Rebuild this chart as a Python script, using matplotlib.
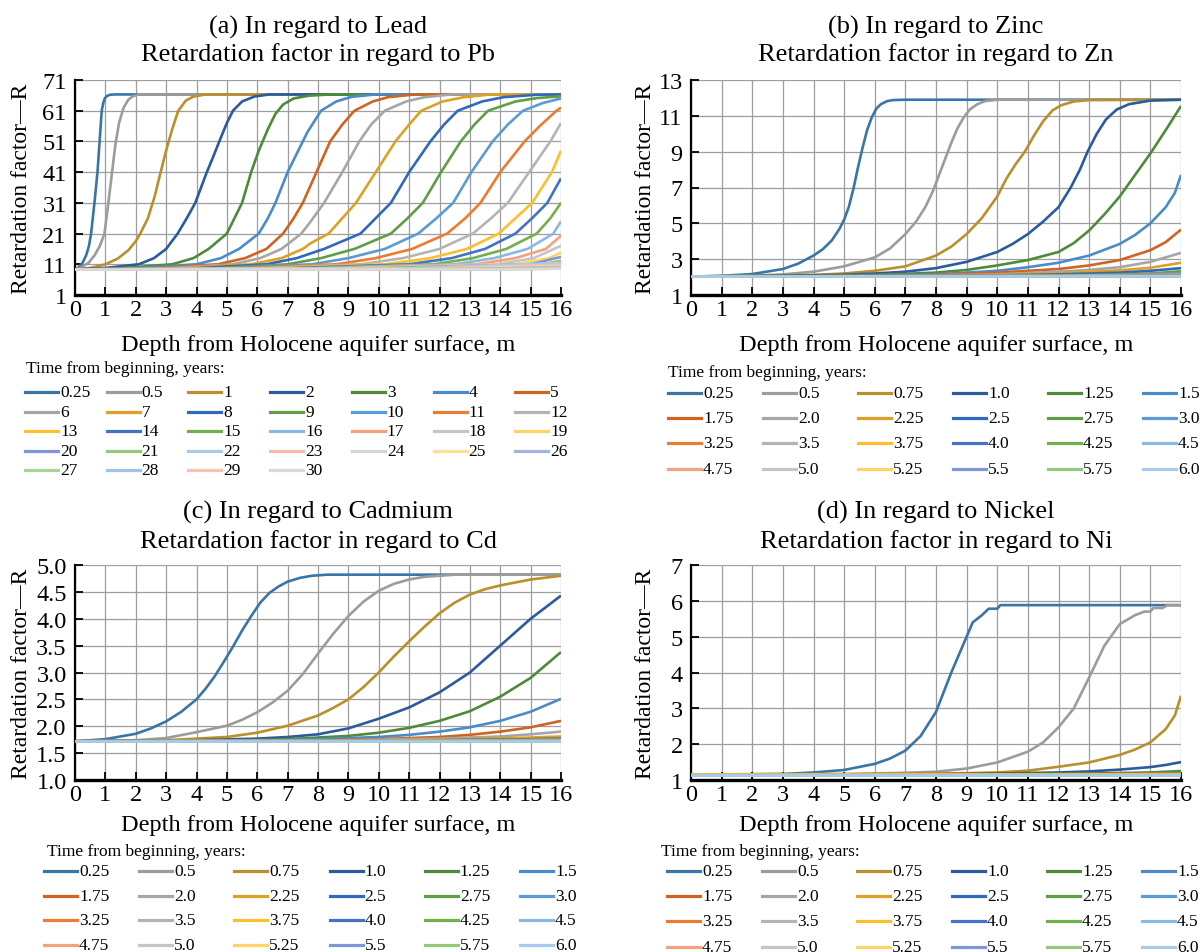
import numpy as np
import matplotlib
matplotlib.use('Agg')
from matplotlib import pyplot as plt
from matplotlib.lines import Line2D

plt.rcParams['font.family'] = 'Liberation Serif'

''' data read from the picture: depth (m) and retardation factor R per curve '''

# shared colour order of the series (same in all four panels)
series_colors = ['#3A75A7', '#9C9C9C', '#BA8F2E', '#2B5A9E', '#4F8A3A', '#4A8CCB', '#CF6420',
                 '#A6A6A6', '#DCA125', '#3068BE', '#5E9E45', '#5B9BD5', '#EC7B34', '#B4B4B4',
                 '#FDBF2D', '#4472C4', '#72B04C', '#8CB9E4', '#F4A27E', '#C5C5C5', '#FFD466',
                 '#7C98D6', '#93C97A', '#A9CBEC', '#F8BCA6', '#D4D4D4', '#FFDE96', '#A2B4E2',
                 '#A9D495', '#9FC3E9', '#F7C4B4', '#D9D9D9']

# (a) Lead
pb_labels = ['0.25', '0.5'] + [str(t) for t in range(1, 31)]
pb_x = [
  [0, 0.12, 0.25, 0.37, 0.46, 0.53, 0.64, 0.74, 0.81, 0.88, 0.93, 0.98, 1.05, 1.15, 1.3, 16],
  [0, 0.2, 0.45, 0.65, 0.82, 0.97, 1.1, 1.22, 1.33, 1.45, 1.6, 1.75, 1.9, 2.1, 16],
  [0, 0.5, 1.0, 1.4, 1.75, 2.0, 2.15, 2.4, 2.62, 2.82, 3.0, 3.2, 3.4, 3.65, 3.9, 4.3, 16],
  [0, 1, 2.1, 2.6, 3.0, 3.38, 3.68, 3.96, 4.15, 4.34, 4.55, 4.75, 5.0, 5.2, 5.5, 5.9, 6.4, 16],
  [0, 1.5, 3.2, 3.9, 4.4, 5.0, 5.25, 5.5, 5.8, 6.05, 6.35, 6.6, 6.85, 7.2, 7.7, 8.4, 16],
  [0, 2, 4.0, 4.8, 5.4, 6.05, 6.35, 6.6, 7.0, 7.3, 7.65, 8.1, 8.6, 9.1, 9.9, 16],
  [0, 2.5, 4.7, 5.6, 6.3, 6.85, 7.2, 7.5, 7.95, 8.4, 8.8, 9.2, 9.8, 10.3, 11.2, 16],
  [0, 3, 5.2, 6.1, 6.8, 7.45, 7.75, 8.2, 8.8, 9.36, 9.75, 10.2, 10.9, 11.5, 12.4, 16],
  [0, 3.5, 5.8, 6.8, 7.5, 7.75, 8.35, 8.8, 9.25, 9.9, 10.55, 11.0, 11.4, 12.1, 12.8, 13.7, 16],
  [0, 4, 6.3, 7.3, 8.2, 9.4, 9.9, 10.4, 11.0, 11.7, 12.15, 12.6, 13.4, 14.1, 15.2, 16],
  [0, 4.5, 7.0, 8.1, 9.2, 10.4, 10.95, 11.45, 12.05, 12.7, 13.15, 13.6, 14.5, 15.2, 16],
  [0, 5, 7.8, 9.0, 10.2, 11.3, 11.9, 12.45, 13.05, 13.75, 14.25, 14.75, 15.4, 16],
  [0, 5.5, 8.6, 9.9, 11.1, 12.25, 12.85, 13.35, 14.0, 14.8, 15.3, 15.85, 16],
  [0, 6, 9.4, 10.8, 12.0, 13.1, 13.7, 14.25, 14.95, 15.65, 16],
  [0, 6.5, 10.2, 11.7, 12.9, 13.95, 14.5, 15.05, 15.7, 16],
  [0, 7, 11, 12.4, 13.5, 14.5, 15.05, 15.55, 16],
  [0, 7.5, 11.8, 13.1, 14.2, 15.2, 15.65, 16],
  [0, 8, 12.5, 13.8, 14.9, 15.75, 16],
  [0, 8.5, 13.2, 14.5, 15.5, 16],
  [0, 9, 13.9, 15.1, 16],
  [0, 9.5, 14.5, 15.6, 16],
  [0, 10, 15.0, 16],
  [0, 10.5, 15.4, 16],
  [0, 11, 16],
  [0, 11.5, 16],
  [0, 12, 16],
  [0, 12.5, 16],
  [0, 13, 16],
  [0, 13.5, 16],
  [0, 14, 16],
  [0, 14.5, 16],
  [0, 15, 16],
]
pb_r = [
  [9.3, 10, 11.5, 14, 17, 21, 31, 41, 51, 61, 63.5, 65, 65.8, 66.2, 66.3, 66.3],
  [9.3, 10, 11.5, 14, 17, 21, 31, 41, 50, 57, 62, 64.5, 65.7, 66.3, 66.3],
  [9.3, 9.8, 11, 12.8, 15.5, 18.5, 21, 26, 33, 41, 48, 55, 61, 64.3, 65.6, 66.3, 66.3],
  [9.3, 9.8, 11, 13, 16, 21, 26, 31, 36, 41, 46, 51, 57, 61, 64, 65.6, 66.3, 66.3],
  [9.3, 9.7, 11, 13, 16, 21, 26, 31, 41, 48, 55, 60, 63, 65, 65.9, 66.3, 66.3],
  [9.3, 9.7, 11, 13, 16, 21, 26, 31, 41, 47, 54, 61, 64, 65.5, 66.3, 66.3],
  [9.3, 9.7, 11, 13, 16, 21, 26, 31, 41, 51, 56.5, 61, 64, 65.4, 66.3, 66.3],
  [9.3, 9.7, 11, 13, 16, 21, 24.8, 31, 41, 51, 56.5, 61, 64, 65.4, 66.3, 66.3],
  [9.3, 9.7, 11, 13, 16, 17.8, 21, 26, 31, 41, 51, 56.5, 61, 64, 65.4, 66.3, 66.3],
  [9.3, 9.7, 11, 13, 16, 21, 26, 31, 41, 51, 56.5, 61, 64, 65.4, 66.2, 66.3],
  [9.3, 9.7, 11, 13, 16, 21, 26, 31, 41, 51, 56.5, 61, 64, 65.1, 65.7],
  [9.3, 9.7, 11, 13, 16, 21, 26, 31, 41, 51, 56.5, 61, 63.5, 65],
  [9.3, 9.7, 11, 13, 16, 21, 26, 31, 41, 51, 56, 61, 62],
  [9.3, 9.7, 11, 13, 16, 21, 26, 31, 41, 51, 57],
  [9.3, 9.7, 11, 13, 16, 21, 26, 31, 41, 48],
  [9.3, 9.7, 11, 13, 16, 21, 26, 31, 39],
  [9.3, 9.7, 11, 13, 16, 21, 26, 31],
  [9.3, 9.7, 11, 13, 16, 21, 25],
  [9.3, 9.7, 11, 13, 16, 20.3],
  [9.3, 9.7, 11, 13, 17],
  [9.3, 9.7, 11, 13, 14.8],
  [9.3, 9.7, 11, 13.4],
  [9.3, 9.7, 11, 12.2],
  [9.3, 9.7, 11.4],
  [9.3, 9.65, 10.9],
  [9.3, 9.6, 10.5],
  [9.3, 9.55, 10.3],
  [9.3, 9.5, 10.1],
  [9.3, 9.45, 9.95],
  [9.3, 9.4, 9.8],
  [9.3, 9.4, 9.7],
  [9.3, 9.35, 9.6],
]

# time labels shared by Zn, Cd, Ni
time_labels = ['0.25', '0.5', '0.75', '1.0', '1.25', '1.5', '1.75', '2.0', '2.25', '2.5', '2.75', '3.0',
               '3.25', '3.5', '3.75', '4.0', '4.25', '4.5', '4.75', '5.0', '5.25', '5.5', '5.75', '6.0']

# (b) Zinc
zn_x = [
  [0, 1, 2, 3, 3.5, 4, 4.3, 4.6, 4.85, 5.0, 5.15, 5.3, 5.45, 5.6, 5.75, 5.9, 6.05, 6.2, 6.4, 6.6, 7, 16],
  [0, 2, 3, 4, 5, 6, 6.5, 7, 7.35, 7.65, 7.9, 8.1, 8.3, 8.5, 8.7, 8.9, 9.1, 9.35, 9.6, 10, 16],
  [0, 4, 5, 6, 7, 8, 8.5, 9, 9.5, 10, 10.3, 10.6, 10.9, 11.2, 11.5, 11.8, 12.1, 12.5, 13, 16],
  [0, 3, 5, 6, 7, 8, 9, 10, 10.5, 11, 11.5, 12, 12.4, 12.7, 12.95, 13.25, 13.55, 13.9, 14.3, 15, 16],
  [0, 4, 6, 8, 9, 10, 11, 12, 12.5, 13, 13.5, 14, 14.5, 15, 15.5, 16],
  [0, 5, 8, 10, 11, 12, 13, 14, 14.5, 15, 15.5, 15.8, 16],
  [0, 6, 8, 10, 12, 13, 14, 15, 15.5, 16],
  [0, 6, 10, 12, 13, 14, 15, 16],
  [0, 8, 10, 12, 14, 15, 16],
  [0, 9, 12, 14, 15, 16],
  [0, 10, 13, 15, 16],
  [0, 11, 14, 16],
  [0, 12, 16],
  [0, 12, 16],
  [0, 12.5, 16],
  [0, 13, 16],
  [0, 13, 16],
  [0, 16], [0, 16], [0, 16], [0, 16], [0, 16], [0, 16], [0, 16],
]
zn_r = [
  [2.03, 2.07, 2.17, 2.45, 2.75, 3.2, 3.55, 4.05, 4.7, 5.2, 5.9, 6.9, 8.1, 9.2, 10.2, 10.9, 11.4, 11.65, 11.82, 11.88, 11.9, 11.9],
  [2.03, 2.08, 2.15, 2.3, 2.6, 3.1, 3.6, 4.4, 5.1, 5.9, 6.8, 7.7, 8.6, 9.5, 10.3, 10.9, 11.35, 11.65, 11.82, 11.9, 11.9],
  [2.03, 2.12, 2.2, 2.35, 2.6, 3.2, 3.7, 4.4, 5.3, 6.5, 7.5, 8.3, 9, 9.9, 10.7, 11.3, 11.6, 11.8, 11.88, 11.9],
  [2.03, 2.07, 2.13, 2.2, 2.3, 2.5, 2.85, 3.4, 3.85, 4.4, 5.1, 5.9, 7, 8, 9, 10.0, 10.8, 11.35, 11.65, 11.85, 11.9],
  [2.03, 2.06, 2.12, 2.25, 2.4, 2.65, 2.95, 3.4, 3.9, 4.6, 5.5, 6.5, 7.7, 8.9, 10.2, 11.55],
  [2.03, 2.06, 2.15, 2.35, 2.55, 2.8, 3.2, 3.85, 4.35, 5.0, 5.9, 6.7, 7.7],
  [2.03, 2.06, 2.12, 2.25, 2.45, 2.65, 2.95, 3.5, 3.95, 4.65],
  [2.03, 2.05, 2.15, 2.3, 2.4, 2.55, 2.85, 3.35],
  [2.03, 2.06, 2.12, 2.22, 2.38, 2.52, 2.8],
  [2.03, 2.06, 2.15, 2.25, 2.35, 2.5],
  [2.03, 2.06, 2.12, 2.2, 2.32],
  [2.03, 2.06, 2.12, 2.22],
  [2.03, 2.07, 2.15],
  [2.03, 2.06, 2.12],
  [2.03, 2.05, 2.1],
  [2.03, 2.05, 2.08],
  [2.03, 2.04, 2.07],
  [2.03, 2.06], [2.03, 2.05], [2.03, 2.04], [2.03, 2.04], [2.03, 2.04], [2.03, 2.04], [2.03, 2.04],
]

# (c) Cadmium
cd_x = [
  [0, 1, 2, 2.5, 3, 3.5, 4, 4.3, 4.6, 4.9, 5.2, 5.5, 5.8, 6.1, 6.4, 6.7, 7.0, 7.4, 7.8, 8.3, 9, 16],
  [0, 2, 3, 4, 5, 5.5, 6, 6.5, 7, 7.5, 8, 8.5, 9, 9.5, 10, 10.5, 11, 11.5, 12, 12.5, 16],
  [0, 3, 5, 6, 7, 8, 8.5, 9, 9.5, 10, 10.5, 11, 11.5, 12, 12.5, 13, 13.5, 14, 15, 16],
  [0, 4, 6, 7, 8, 9, 10, 11, 12, 13, 14, 15, 16],
  [0, 5, 7, 9, 10, 11, 12, 13, 14, 15, 16],
  [0, 6, 8, 10, 11, 12, 13, 14, 15, 16],
  [0, 7, 10, 12, 13, 14, 15, 16],
  [0, 8, 12, 14, 15, 16],
  [0, 9, 13, 15, 16],
  [0, 10, 14, 16],
  [0, 11, 16],
  [0, 12, 16],
  [0, 16], [0, 16], [0, 16], [0, 16], [0, 16], [0, 16],
  [0, 16], [0, 16], [0, 16], [0, 16], [0, 16], [0, 16],
]
cd_r = [
  [1.72, 1.76, 1.86, 1.96, 2.09, 2.27, 2.5, 2.7, 2.93, 3.2, 3.48, 3.78, 4.05, 4.3, 4.48, 4.6, 4.69, 4.76, 4.8, 4.82, 4.82, 4.82],
  [1.72, 1.74, 1.78, 1.89, 2.01, 2.12, 2.26, 2.44, 2.66, 2.97, 3.35, 3.72, 4.05, 4.32, 4.52, 4.65, 4.73, 4.78, 4.8, 4.82, 4.82],
  [1.72, 1.74, 1.8, 1.88, 2.01, 2.2, 2.34, 2.5, 2.73, 3.0, 3.3, 3.58, 3.85, 4.1, 4.3, 4.45, 4.55, 4.62, 4.73, 4.8],
  [1.72, 1.74, 1.77, 1.8, 1.85, 1.96, 2.14, 2.35, 2.63, 3.0, 3.5, 4.0, 4.43],
  [1.72, 1.73, 1.76, 1.82, 1.88, 1.97, 2.1, 2.28, 2.55, 2.9, 3.38],
  [1.72, 1.73, 1.76, 1.8, 1.84, 1.9, 1.98, 2.1, 2.27, 2.51],
  [1.72, 1.73, 1.76, 1.8, 1.84, 1.9, 1.98, 2.1],
  [1.72, 1.73, 1.77, 1.81, 1.85, 1.9],
  [1.72, 1.73, 1.76, 1.79, 1.81],
  [1.72, 1.73, 1.75, 1.77],
  [1.72, 1.73, 1.76],
  [1.72, 1.725, 1.75],
  [1.72, 1.745], [1.72, 1.74], [1.72, 1.735], [1.72, 1.73], [1.72, 1.73], [1.72, 1.725],
  [1.72, 1.725], [1.72, 1.725], [1.72, 1.72], [1.72, 1.72], [1.72, 1.72], [1.72, 1.72],
]

# (d) Nickel
ni_x = [
  [0, 3, 4, 5, 6, 6.5, 7, 7.5, 8, 8.5, 8.8, 9.0, 9.2, 9.5, 9.72, 10.0, 10.1, 16],
  [0, 5, 7, 8, 9, 10, 11, 11.5, 12, 12.5, 13, 13.5, 14, 14.5, 14.8, 15.0, 15.1, 15.4, 15.55, 16],
  [0, 6, 9, 10, 11, 12, 13, 14, 14.5, 15, 15.5, 15.8, 16],
  [0, 8, 10, 12, 13, 14, 15, 15.5, 16],
  [0, 10, 13, 15, 16],
  [0, 11, 14, 16],
  [0, 12, 16],
  [0, 13, 16],
  [0, 16], [0, 16], [0, 16], [0, 16], [0, 16], [0, 16], [0, 16], [0, 16],
  [0, 16], [0, 16], [0, 16], [0, 16], [0, 16], [0, 16], [0, 16], [0, 16],
]
ni_r = [
  [1.15, 1.17, 1.21, 1.28, 1.45, 1.6, 1.82, 2.23, 2.9, 4.0, 4.6, 5.0, 5.4, 5.6, 5.78, 5.78, 5.88, 5.88],
  [1.15, 1.17, 1.2, 1.23, 1.32, 1.49, 1.79, 2.05, 2.47, 3.0, 3.86, 4.75, 5.35, 5.6, 5.7, 5.7, 5.8, 5.8, 5.88, 5.88],
  [1.15, 1.16, 1.19, 1.21, 1.26, 1.37, 1.49, 1.7, 1.85, 2.05, 2.42, 2.8, 3.35],
  [1.15, 1.16, 1.18, 1.21, 1.24, 1.29, 1.36, 1.42, 1.5],
  [1.15, 1.16, 1.18, 1.21, 1.25],
  [1.15, 1.16, 1.17, 1.2],
  [1.15, 1.16, 1.18],
  [1.15, 1.155, 1.17],
  [1.15, 1.16], [1.15, 1.16], [1.15, 1.16], [1.15, 1.155], [1.15, 1.155], [1.15, 1.155], [1.15, 1.155], [1.15, 1.15],
  [1.15, 1.15], [1.15, 1.15], [1.15, 1.15], [1.15, 1.15], [1.15, 1.15], [1.15, 1.15], [1.15, 1.15], [1.15, 1.15],
]

W, H = 1202, 953
fig = plt.figure(figsize=(W / 100, H / 100), dpi=100)


def make_axes(left, top, width, height):
  return fig.add_axes([left / W, 1 - (top + height) / H, width / W, height / H])


def panel(ax, xs, rs, yticks, yfmt, title1, title2, ylab_x, xlab_y, t2_y):
  for i, (x, r) in enumerate(zip(xs, rs)):
    ax.plot(x, r, color=series_colors[i], lw=1.9, solid_capstyle='butt', zorder=3)
  ax.set_xlim(0, 16)
  ax.set_ylim(yticks[0], yticks[-1])
  ax.set_xticks(range(0, 17))
  ax.set_yticks(yticks)
  ax.set_yticklabels([yfmt % v for v in yticks])
  ax.grid(True, color='#9E9E9E', lw=0.9)
  ax.set_axisbelow(True)
  for s in ['top', 'right']:
    ax.spines[s].set_visible(False)
  ax.spines['left'].set_linewidth(1.6)
  ax.spines['bottom'].set_linewidth(2.4)
  ax.tick_params(direction='in', length=6, width=1.3, labelsize=17.5, color='black')
  ax.tick_params(axis='y', pad=6)
  ax.tick_params(axis='x', pad=3)
  ax.text(0.5, 1.251, title1, transform=ax.transAxes, ha='center', va='center', fontsize=19)
  ax.text(0.5, t2_y, title2, transform=ax.transAxes, ha='center', va='center', fontsize=19)
  ax.text(ylab_x, 0.5, 'Retardation factor\u2014R', transform=ax.transAxes, rotation=90,
          ha='center', va='center', fontsize=17)
  ax.text(0.5, xlab_y, 'Depth from Holocene aquifer surface, m', transform=ax.transAxes,
          ha='center', va='center', fontsize=17.5)


def legend(labels, ncol, x0, dx, y0, dy, title_x, title_y):
  fig.text(title_x / W, 1 - title_y / H, 'Time from beginning, years:', ha='left', va='center', fontsize=12.5)
  for i, lab in enumerate(labels):
    row, col = divmod(i, ncol)
    x = x0 + col * dx
    y = 1 - (y0 + row * dy) / H
    fig.add_artist(Line2D([x / W, (x + 33) / W], [y, y], color=series_colors[i], lw=2.3,
                          transform=fig.transFigure))
    fig.text((x + 35) / W, y, lab, ha='left', va='center', fontsize=12.5)


ax_a = make_axes(75, 81, 486, 215)
panel(ax_a, pb_x, pb_r, list(range(1, 72, 10)), '%d', '(a) In regard to Lead',
      'Retardation factor in regard to Pb', -0.111, -0.228, 1.121)
legend(pb_labels, 7, 25, 81.7, 393, 19.6, 26, 369)

ax_b = make_axes(691, 81, 490, 215)
panel(ax_b, zn_x, zn_r, list(range(1, 14, 2)), '%d', '(b) In regard to Zinc',
      'Retardation factor in regard to Zn', -0.092, -0.228, 1.121)
legend(time_labels, 6, 668, 95, 394, 25.2, 668, 373)

ax_c = make_axes(75, 566, 486, 215)
panel(ax_c, cd_x, cd_r, [1.0 + 0.5 * k for k in range(9)], '%.1f', '(c) In regard to Cadmium',
      'Retardation factor in regard to Cd', -0.111, -0.205, 1.112)
legend(time_labels, 6, 44, 95.2, 872, 24.7, 47, 852)

ax_d = make_axes(691, 566, 490, 215)
panel(ax_d, ni_x, ni_r, list(range(1, 8)), '%d', '(d) In regard to Nickel',
      'Retardation factor in regard to Ni', -0.092, -0.205, 1.112)
legend(time_labels, 6, 667, 95, 872, 25.2, 661, 852)

plt.savefig('out.png', dpi=100)
